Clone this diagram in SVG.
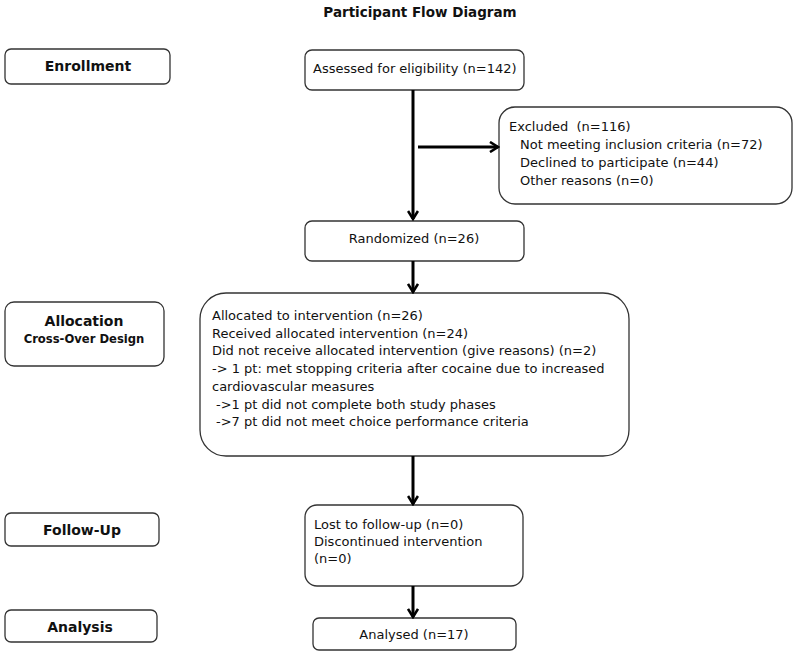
<svg xmlns="http://www.w3.org/2000/svg" width="797" height="655" viewBox="0 0 797 655">
<defs>
<style>
.box{fill:#fff;stroke:#333;stroke-width:1.3}
.t{font-family:"DejaVu Sans","Verdana",sans-serif;font-size:13px;fill:#111}
.b{font-family:"DejaVu Sans","Verdana",sans-serif;font-weight:bold;font-size:14px;fill:#111}
.c{stroke:#000;stroke-width:3;fill:none}
</style>
<marker id="ah" markerWidth="12" markerHeight="12" refX="10" refY="6" orient="auto" markerUnits="userSpaceOnUse">
<path d="M2,1 L10,6 L2,11" fill="none" stroke="#000" stroke-width="2.6"/>
</marker>
</defs>
<rect width="797" height="655" fill="#fff"/>
<text class="b" x="420" y="17" text-anchor="middle" style="font-size:13.5px">Participant Flow Diagram</text>

<g id="enrollment"><rect class="box" x="5" y="49" width="165" height="35" rx="6"/><text class="b" x="88" y="71" text-anchor="middle">Enrollment</text></g>
<g id="allocation"><rect class="box" x="5" y="302" width="159" height="64" rx="9"/><text class="b" x="84" y="326" text-anchor="middle">Allocation</text><text class="b" x="84" y="343" text-anchor="middle" style="font-size:11.6px">Cross-Over Design</text></g>
<g id="followup"><rect class="box" x="5" y="513" width="154" height="33" rx="6"/><text class="b" x="82" y="535" text-anchor="middle">Follow-Up</text></g>
<g id="analysis"><rect class="box" x="5" y="610" width="152" height="32" rx="6"/><text class="b" x="80" y="632" text-anchor="middle">Analysis</text></g>

<g id="assessed"><rect class="box" x="305" y="50" width="219" height="40" rx="7"/><text class="t" x="313" y="73">Assessed for eligibility (n=142)</text></g>
<g id="excluded"><rect class="box" x="499" y="107" width="293" height="97" rx="16"/>
<text class="t" x="509" y="131" xml:space="preserve">Excluded  (n=116)</text>
<text class="t" x="520" y="149">Not meeting inclusion criteria (n=72)</text>
<text class="t" x="520" y="167">Declined to participate (n=44)</text>
<text class="t" x="520" y="185">Other reasons (n=0)</text></g>
<g id="randomized"><rect class="box" x="305" y="221" width="219" height="40" rx="7"/><text class="t" x="414" y="243" text-anchor="middle">Randomized (n=26)</text></g>
<g id="allocated"><rect class="box" x="200" y="293" width="429" height="163" rx="26"/>
<text class="t" x="212" y="320">Allocated to intervention (n=26)</text>
<text class="t" x="212" y="338">Received allocated intervention (n=24)</text>
<text class="t" x="212" y="355">Did not receive allocated intervention (give reasons) (n=2)</text>
<text class="t" x="212" y="373">-&gt; 1 pt: met stopping criteria after cocaine due to increased</text>
<text class="t" x="212" y="391">cardiovascular measures</text>
<text class="t" x="216" y="409">-&gt;1 pt did not complete both study phases</text>
<text class="t" x="216" y="426">-&gt;7 pt did not meet choice performance criteria</text></g>
<g id="lost"><rect class="box" x="305" y="505" width="218" height="81" rx="12"/>
<text class="t" x="314" y="529">Lost to follow-up (n=0)</text>
<text class="t" x="314" y="546">Discontinued intervention</text>
<text class="t" x="314" y="563">(n=0)</text></g>
<g id="analysed"><rect class="box" x="313" y="618" width="203" height="32" rx="6"/><text class="t" x="414" y="639" text-anchor="middle">Analysed (n=17)</text></g>

<g id="connectors">
<line class="c" x1="413" y1="90" x2="413" y2="219" marker-end="url(#ah)"/>
<line class="c" x1="418" y1="147" x2="498" y2="147" marker-end="url(#ah)"/>
<line class="c" x1="413" y1="261" x2="413" y2="292" marker-end="url(#ah)"/>
<line class="c" x1="413" y1="456" x2="413" y2="504" marker-end="url(#ah)"/>
<line class="c" x1="413" y1="586" x2="413" y2="617" marker-end="url(#ah)"/>
</g>
</svg>
